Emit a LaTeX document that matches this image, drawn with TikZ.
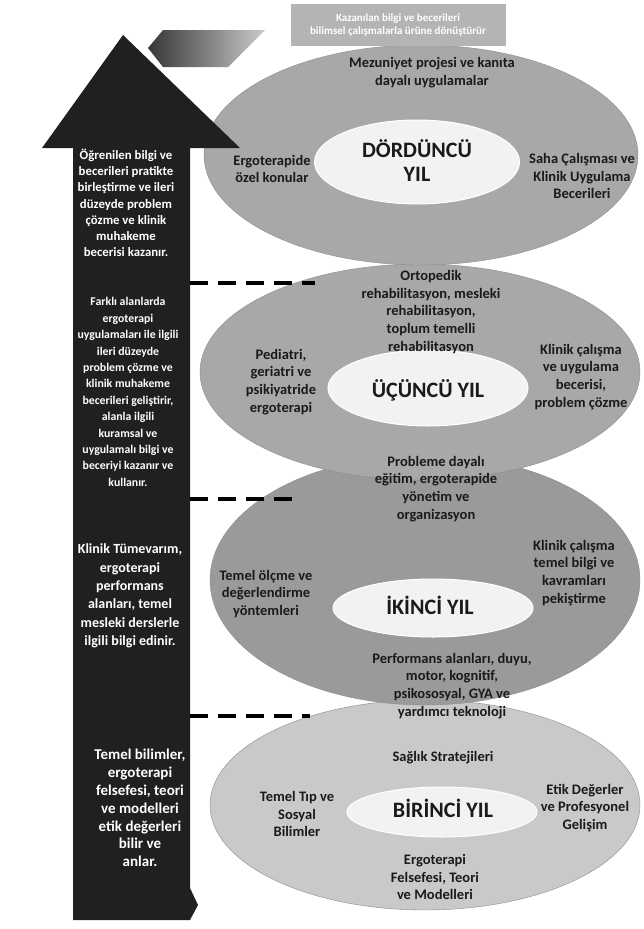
\documentclass[tikz,border=0pt]{standalone}
\usepackage{fontspec}
\setmainfont{Carlito}
\usetikzlibrary{shapes.geometric}
\definecolor{arrowdark}{HTML}{202020}
\definecolor{ellgray}{HTML}{A8A8A8}
\definecolor{ellgrayb}{HTML}{9A9A9A}
\definecolor{ellgrayc}{HTML}{C9C9C9}
\definecolor{innerfill}{HTML}{F2F2F2}
\definecolor{boxgray}{HTML}{B4B4B4}
\definecolor{txtdark}{HTML}{1A1A1A}
\begin{document}
\begin{tikzpicture}[x=1pt,y=-1pt,
  outer/.style={ellipse, inner sep=0pt, draw=black!45, line width=0.4pt},
  inner/.style={ellipse, inner sep=0pt, fill=innerfill, draw=white, line width=1pt},
  lbl/.style={font=\bfseries\fontsize{14.5}{17.8}\selectfont, align=center, text=txtdark, inner sep=0pt},
  leftlbl/.style={font=\bfseries\fontsize{12.8}{16.2}\selectfont, align=center, text=white, inner sep=0pt},
  leftmid/.style={font=\bfseries\fontsize{11.8}{16.4}\selectfont, align=center, text=white, inner sep=0pt},
  leftbig/.style={font=\bfseries\fontsize{14}{18.3}\selectfont, align=center, text=white, inner sep=0pt},
  leftbot/.style={font=\bfseries\fontsize{15}{17.8}\selectfont, align=center, text=white, inner sep=0pt},
  yearlbl/.style={font=\bfseries\fontsize{22}{24}\selectfont, align=center, text=txtdark, inner sep=0pt},
  dashline/.style={line width=3.5pt, dash pattern=on 18pt off 10pt}
]
\useasboundingbox (0,0) rectangle (643,929);
\fill[white] (0,0) rectangle (643,929);

% ellipses (first year drawn first)
\node[outer, fill=ellgrayc, minimum width=430pt, minimum height=210pt] (e1) at (425,805) {};
\node[outer, fill=ellgrayb, minimum width=430pt, minimum height=250pt] (e2) at (425,580) {};
\node[outer, fill=ellgray, minimum width=440pt, minimum height=216pt] (e3) at (420,372) {};
\node[outer, fill=ellgray, minimum width=434pt, minimum height=220pt] (e4) at (421,155) {};

\node[inner, minimum width=205pt, minimum height=84pt] (i4) at (417,162) {};
\node[inner, minimum width=200pt, minimum height=76pt] (i3) at (428,388) {};
\node[inner, minimum width=200pt, minimum height=58pt] (i2) at (433,608) {};
\node[inner, minimum width=190pt, minimum height=50pt] (i1) at (442,812) {};

% top box and chevron
\node[fill=boxgray, minimum width=215pt, minimum height=42pt, inner sep=0pt,
      font=\bfseries\fontsize{11}{13.5}\selectfont, text=white, align=center] (topbox) at (398,25)
      {Kazanılan bilgi ve becerileri\\bilimsel çalışmalarla ürüne dönüştürür};
\shade[left color=arrowdark!90, right color=boxgray!70] (148,48) -- (163,30) -- (265,30) -- (228,67) -- (163,67) -- cycle;

% big arrow
\fill[arrowdark] (123,35) -- (240,148) -- (190,148) -- (190,888) -- (198,905) -- (190,920)
  -- (73,920) -- (73,148) -- (42,148) -- cycle;

% dashed separators
\coordinate (d1a) at (190,283); \coordinate (d1b) at (315,283);
\coordinate (d2a) at (190,499); \coordinate (d2b) at (297,499);
\coordinate (d3a) at (190,716); \coordinate (d3b) at (310,716);
\draw[dashline] (d1a) -- (d1b);
\draw[dashline] (d2a) -- (d2b);
\draw[dashline] (d3a) -- (d3b);

% left column texts
\node[leftlbl] (l4) at (126,203) {Öğrenilen bilgi ve\\becerileri pratikte\\birleştirme ve ileri\\düzeyde problem\\çözme ve klinik\\muhakeme\\becerisi kazanır.};
\node[leftmid] (l3) at (128,392) {Farklı alanlarda\\ergoterapi\\uygulamaları ile ilgili\\ileri düzeyde\\problem çözme ve\\klinik muhakeme\\becerileri geliştirir,\\alanla ilgili\\kuramsal ve\\uygulamalı bilgi ve\\beceriyi kazanır ve\\kullanır.};
\node[leftbig] (l2) at (130,596) {Klinik Tümevarım,\\ergoterapi\\performans\\alanları, temel\\mesleki derslerle\\ilgili bilgi edinir.};
\node[leftbot] (l1) at (140,808) {Temel bilimler,\\ergoterapi\\felsefesi, teori\\ve modelleri\\etik değerleri\\bilir ve\\anlar.};

% fourth year
\node[lbl] (t4a) at (432,73) {Mezuniyet projesi ve kanıta\\dayalı uygulamalar};
\node[lbl] (t4b) at (272,169) {Ergoterapide\\özel konular};
\node[yearlbl] (y4) at (417,161) {DÖRDÜNCÜ\\YIL};
\node[lbl] (t4c) at (582,176) {Saha Çalışması ve\\Klinik Uygulama\\Becerileri};

% third year
\node[lbl] (t3a) at (431,312) {Ortopedik\\rehabilitasyon, mesleki\\rehabilitasyon,\\toplum temelli\\rehabilitasyon};
\node[lbl] (t3b) at (281,382) {Pediatri,\\geriatri ve\\psikiyatride\\ergoterapi};
\node[yearlbl] (y3) at (428,390) {ÜÇÜNCÜ YIL};
\node[lbl] (t3c) at (581,377) {Klinik çalışma\\ve uygulama\\becerisi,\\problem çözme};

% second year
\node[lbl] (t2a) at (436,489) {Probleme dayalı\\eğitim, ergoterapide\\yönetim ve\\organizasyon};
\node[lbl] (t2b) at (266,594) {Temel ölçme ve\\değerlendirme\\yöntemleri};
\node[yearlbl] (y2) at (430,605) {İKİNCİ YIL};
\node[lbl] (t2c) at (574,573) {Klinik çalışma\\temel bilgi ve\\kavramları\\pekiştirme};
\node[lbl] (t2d) at (452,686) {Performans alanları, duyu,\\motor, kognitif,\\psikososyal, GYA ve\\yardımcı teknoloji};

% first year
\node[lbl] (t1a) at (443,758) {Sağlık Stratejileri};
\node[lbl] (t1b) at (297,814) {Temel Tıp ve\\Sosyal\\Bilimler};
\node[yearlbl] (y1) at (443,808) {BİRİNCİ YIL};
\node[lbl] (t1c) at (585,808) {Etik Değerler\\ve Profesyonel\\Gelişim};
\node[lbl] (t1d) at (435,877) {Ergoterapi\\Felsefesi, Teori\\ve Modelleri};
\end{tikzpicture}
\end{document}
